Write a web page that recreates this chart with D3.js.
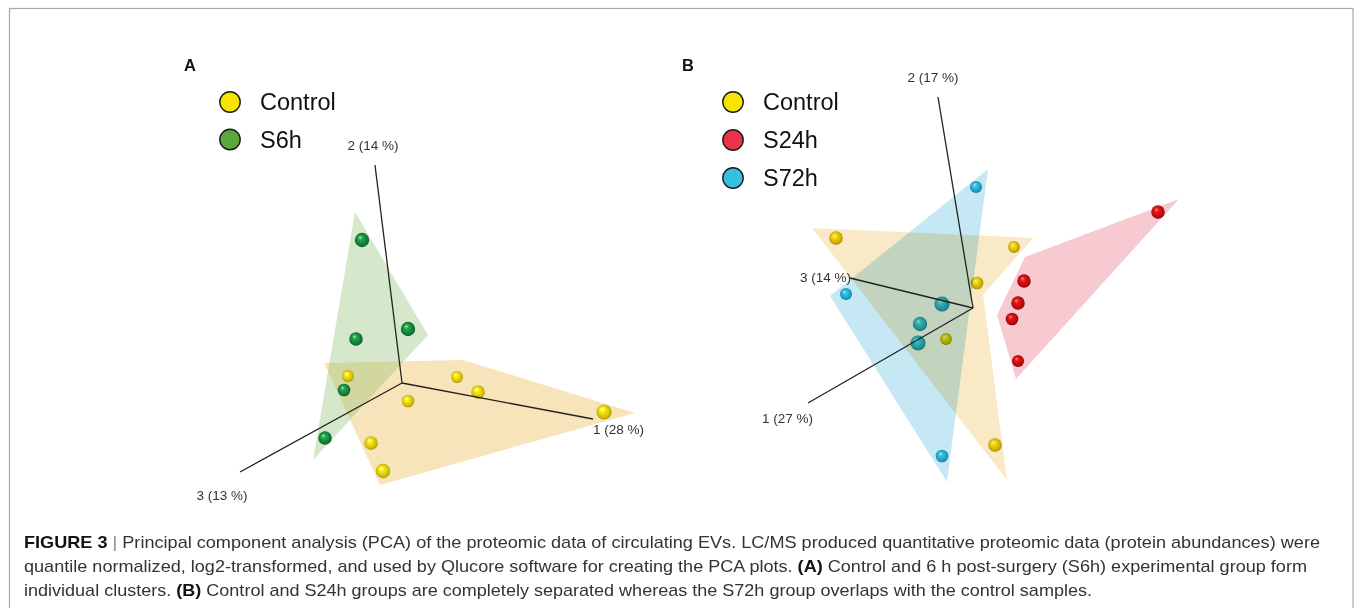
<!DOCTYPE html>
<html>
<head>
<meta charset="utf-8">
<script src="https://cdn.jsdelivr.net/npm/d3@7"></script>
<style>
  html, body { margin: 0; padding: 0; background: #fff; }
  svg { display: block; }
</style>
</head>
<body>
<svg id="fig" width="1355" height="608"></svg>
<script>
// ---------------- DATA (projected PCA scores) ----------------
const panelLetters = ["A", "B"];
const legendA = ["Control", "S6h"];
const legendB = ["Control", "S24h", "S72h"];
const axisLabelsA = ["1 (28 %)", "2 (14 %)", "3 (13 %)"];
const axisLabelsB = ["1 (27 %)", "2 (17 %)", "3 (14 %)"];

// Panel A: projected [x, y] scores and depth (toward viewer)
const A_control = [[-2.7, 0.35], [2.75, 0.3], [3.8, -0.45], [0.3, -0.9], [10.1, -1.45], [-1.55, -3.0], [-0.95, -4.4]];
const A_controlDepth = [-0.5, -0.5, 0.1, -0.2, 0.7, 0.1, 0.4];
const A_s6h = [[-2.0, 7.15], [0.3, 2.7], [-2.3, 2.2], [-2.9, -0.35], [-3.85, -2.75]];
const A_s6hDepth = [0.4, 0.4, 0.1, -0.2, 0.1];
const A_hullControl = [[-3.9, 1.0], [3.05, 1.15], [11.65, -1.5], [-1.1, -5.1]];
const A_hullS6h = [[-2.35, 8.55], [1.3, 2.4], [-4.45, -3.85]];
const A_axisEnds = [[9.55, -1.8], [-1.35, 10.9], [-8.1, -4.45]];

// Panel B: projected [x, y] scores and depth
const B_control = [[-6.85, 3.5], [2.05, 3.05], [0.2, 1.25], [-1.35, -1.55], [1.1, -6.85]];
const B_controlDepth = [0.1, -0.5, -0.2, -0.5, 0.1];
const B_s24h = [[9.25, 4.8], [2.55, 1.35], [2.25, 0.25], [1.95, -0.55], [2.25, -2.65]];
const B_s24hDepth = [0.1, 0.1, 0.1, -0.2, -0.4];
const B_s72h = [[0.15, 6.05], [-6.35, 0.7], [-1.55, 0.2], [-2.65, -0.8], [-2.75, -1.75], [-1.55, -7.4]];
const B_s72hDepth = [-0.4, -0.4, 0.7, 0.4, 0.7, -0.2];
const B_hullControl = [[-8.05, 4.0], [3.0, 3.5], [0.5, 0.65], [1.7, -8.6]];
const B_hullS24h = [[10.3, 5.45], [2.6, 2.55], [1.2, -0.35], [2.15, -3.55]];
const B_hullS72h = [[0.75, 6.95], [-7.15, 0.6], [-1.3, -8.7]];
const B_axisEnds = [[-8.25, -4.75], [-1.75, 10.55], [-6.15, 1.5]];

const captionLines = [
  [["FIGURE 3", "b"], [" ", "n"], ["|", "g"], [" Principal component analysis (PCA) of the proteomic data of circulating EVs. LC/MS produced quantitative proteomic data (protein abundances) were", "n"]],
  [["quantile normalized, log2-transformed, and used by Qlucore software for creating the PCA plots. ", "n"], ["(A)", "b"], [" Control and 6 h post-surgery (S6h) experimental group form", "n"]],
  [["individual clusters. ", "n"], ["(B)", "b"], [" Control and S24h groups are completely separated whereas the S72h group overlaps with the control samples.", "n"]]
];

// ---------------- STYLE ----------------
const groupStyle = {
  "Control": { legend: "#f7e400", hull: "#eebb55", grad: ["#ffffe0", "#fbee14", "#cdb800", "#8a7800"], bhull: "#fae9c6" },
  "S6h":     { legend: "#5aa83c", hull: "#8cc070", grad: ["#a4ecbc", "#22a84e", "#107434", "#06481d"] },
  "S24h":    { legend: "#e8334a", hull: "#f0a0a8", grad: ["#ffb8b8", "#f02020", "#b80a0a", "#760000"], bhull: "#f7cad2" },
  "S72h":    { legend: "#35bfe0", hull: "#66bbdd", grad: ["#e0fcff", "#4ad6f2", "#24a6c6", "#0e7290"], bhull: "#c6e8f4" }
};

const svg = d3.select("#fig");
const defs = svg.append("defs");
Object.entries(groupStyle).forEach(([k, s]) => {
  const g = defs.append("radialGradient").attr("id", "sph-" + k)
    .attr("cx", "50%").attr("cy", "50%").attr("r", "55%").attr("fx", "36%").attr("fy", "30%");
  [[0, s.grad[0]], [0.28, s.grad[1]], [0.8, s.grad[2]], [1, s.grad[3]]].forEach(([o, c]) =>
    g.append("stop").attr("offset", o).attr("stop-color", c));
});

// figure frame
svg.append("rect").attr("x", 9.5).attr("y", 8.5).attr("width", 1343.5).attr("height", 640)
  .attr("fill", "none").attr("stroke", "#a8a8a8").attr("stroke-width", 1.2);

const panels = [
  {
    letter: panelLetters[0], ox: 402, oy: 383, legend: legendA, axisLabels: axisLabelsA,
    groups: [["Control", A_control, A_controlDepth], ["S6h", A_s6h, A_s6hDepth]],
    hulls: [["Control", A_hullControl], ["S6h", A_hullS6h]],
    axisEnds: A_axisEnds, hullsOnTop: false,
    letterPos: [184, 71], legendPos: [230, 102], legendStep: 37.5,
    labelOffsets: [[0, 15, "start"], [-2, -15, "middle"], [-18, 28, "middle"]]
  },
  {
    letter: panelLetters[1], ox: 973, oy: 308, legend: legendB, axisLabels: axisLabelsB,
    groups: [["Control", B_control, B_controlDepth], ["S24h", B_s24h, B_s24hDepth], ["S72h", B_s72h, B_s72hDepth]],
    hulls: [["Control", B_hullControl], ["S72h", B_hullS72h], ["S24h", B_hullS24h]],
    axisEnds: B_axisEnds, hullsOnTop: true,
    letterPos: [682, 71], legendPos: [733, 102], legendStep: 38,
    labelOffsets: [[5, 20, "end"], [-5, -15, "middle"], [1, 4, "end"]]
  }
];

const unit = 20; // px per score unit
const rScale = d3.scaleLinear().domain([-1, 1]).range([5.2, 8.0]);
panels.forEach(p => {
  const x = d3.scaleLinear().domain([-10, 10]).range([p.ox - 10 * unit, p.ox + 10 * unit]);
  const y = d3.scaleLinear().domain([-10, 10]).range([p.oy + 10 * unit, p.oy - 10 * unit]);
  const g = svg.append("g");
  const line = d3.line().x(d => x(d[0])).y(d => y(d[1]));

  const drawHulls = () => {
    const hg = g.append("g");
    p.hulls.forEach(([k, pts]) => {
      const path = hg.append("path").attr("d", line(pts) + "Z");
      if (p.hullsOnTop) {
        path.attr("fill", groupStyle[k].bhull).style("mix-blend-mode", "multiply");
      } else {
        path.attr("fill", groupStyle[k].hull).attr("fill-opacity", k === "Control" ? 0.4 : 0.36);
      }
    });
  };
  const drawPoints = () => {
    const pg = g.append("g");
    p.groups.forEach(([k, pts, depth]) => {
      pg.selectAll(null).data(pts.map((d, i) => [d[0], d[1], depth[i]])).enter().append("circle")
        .attr("cx", d => x(d[0])).attr("cy", d => y(d[1])).attr("r", d => rScale(d[2]))
        .attr("fill", `url(#sph-${k})`);
    });
  };
  if (p.hullsOnTop) { drawPoints(); drawHulls(); } else { drawHulls(); drawPoints(); }

  // axes
  const ag = g.append("g");
  p.axisEnds.forEach((e, i) => {
    ag.append("line").attr("x1", x(0)).attr("y1", y(0)).attr("x2", x(e[0])).attr("y2", y(e[1]))
      .attr("stroke", "#222").attr("stroke-width", 1.3);
    const off = p.labelOffsets[i];
    ag.append("text").attr("x", x(e[0]) + off[0]).attr("y", y(e[1]) + off[1])
      .attr("text-anchor", off[2])
      .attr("font-family", "Liberation Sans, Arial, sans-serif").attr("font-size", 13.5)
      .attr("fill", "#333").text(p.axisLabels[i]);
  });

  // panel letter
  g.append("text").attr("x", p.letterPos[0]).attr("y", p.letterPos[1])
    .attr("font-family", "Liberation Sans, Arial, sans-serif").attr("font-weight", "bold")
    .attr("font-size", 16.5).attr("fill", "#111").text(p.letter);

  // legend
  const lg = g.append("g");
  p.legend.forEach((name, i) => {
    const cy = p.legendPos[1] + i * p.legendStep;
    lg.append("circle").attr("cx", p.legendPos[0]).attr("cy", cy).attr("r", 10.2)
      .attr("fill", groupStyle[name].legend).attr("stroke", "#1a1a1a").attr("stroke-width", 1.4);
    lg.append("text").attr("x", p.legendPos[0] + 30).attr("y", cy + 8.3)
      .attr("font-family", "Liberation Sans, Arial, sans-serif").attr("font-size", 23.5)
      .attr("fill", "#111").text(name);
  });
});

// caption
const capWidths = [1296, 1283, 1068];
const capBase = [548, 572, 596];
captionLines.forEach((segs, i) => {
  const t = svg.append("text").attr("x", 24).attr("y", capBase[i])
    .attr("font-family", "Liberation Sans Narrow, Liberation Sans, Arial, sans-serif")
    .attr("font-size", 17).attr("fill", "#333")
    .attr("textLength", capWidths[i]).attr("lengthAdjust", "spacingAndGlyphs");
  segs.forEach(([s, st]) => {
    const ts = t.append("tspan").text(s);
    if (st === "b") ts.attr("font-weight", "bold").attr("fill", "#111");
    if (st === "g") ts.attr("fill", "#888");
  });
});
</script>
</body>
</html>
